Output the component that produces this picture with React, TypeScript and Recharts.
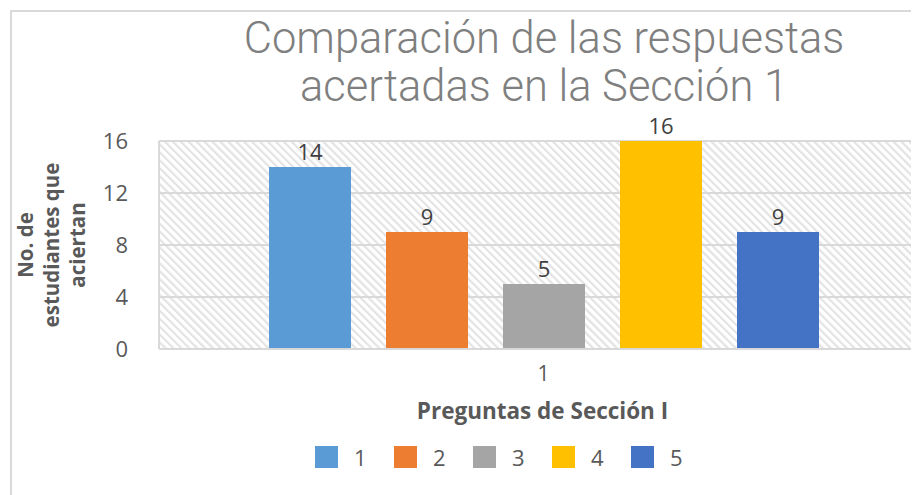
import React from 'react';
import { BarChart, Bar, XAxis, YAxis, CartesianGrid, LabelList, Label } from 'recharts';

const categories = ['1'];
const seriesNames = ['1', '2', '3', '4', '5'];
const seriesValues = [14, 9, 5, 16, 9];
const seriesColors = ['#5B9BD5', '#ED7D31', '#A5A5A5', '#FFC000', '#4472C4'];
const yTicks = [0, 4, 8, 12, 16];
const titleLines = ['Comparación de las respuestas', 'acertadas en la Sección 1'];
const yLabelLines = ['No. de', 'estudiantes que', 'aciertan'];
const xLabel = 'Preguntas de Sección I';

const data = categories.map((c) => {
  const row: Record<string, any> = { name: c };
  seriesNames.forEach((s, i) => {
    row['s' + s] = seriesValues[i];
  });
  return row;
});

const FONT = '"Open Sans", "DejaVu Sans", sans-serif';
const TXT = '#595959';

const YLabel = (props: any) => {
  const vb = props.viewBox || { x: 0, y: 129, width: 157, height: 208 };
  const cy = vb.y + vb.height / 2;
  const xs = [31, 57, 83];
  return (
    <g>
      {yLabelLines.map((l, i) => (
        <g key={i} transform={`translate(${xs[i]}, ${cy}) rotate(-90)`}>
          <text
            x={0}
            y={0}
            textAnchor="middle"
            fontFamily={FONT}
            fontWeight={700}
            fontSize={20.5}
            fill={TXT}
          >
            {l}
          </text>
        </g>
      ))}
    </g>
  );
};

const XLabel = (props: any) => {
  const vb = props.viewBox || { x: 157, y: 337, width: 769, height: 60 };
  return (
    <text
      x={vb.x + vb.width / 2 - 1}
      y={vb.y + 70}
      textAnchor="middle"
      fontFamily={FONT}
      fontWeight={700}
      fontSize={22.5}
      fill={TXT}
    >
      {xLabel}
    </text>
  );
};

export default function App() {
  return (
    <div style={{ position: 'relative', width: 911, height: 487, overflow: 'hidden' }}>
      <svg width={0} height={0} style={{ position: 'absolute' }}>
        <defs>
          <pattern
            id="hatch"
            patternUnits="userSpaceOnUse"
            width={5.6}
            height={5.6}
            patternTransform="rotate(-45)"
          >
            <rect x={0} y={0} width={5.6} height={5.6} fill="#ffffff" />
            <rect x={0} y={0} width={2.2} height={5.6} fill="#e3e3e3" />
          </pattern>
        </defs>
      </svg>
      <div
        style={{
          position: 'absolute',
          left: 2,
          top: 2,
          width: 960,
          height: 540,
          border: '2px solid #d9d9d9',
          boxSizing: 'border-box',
          background: '#fff',
        }}
      >
        <div
          style={{
            position: 'absolute',
            left: 0,
            top: 3,
            width: 1064,
            textAlign: 'center',
            fontFamily: 'Roboto, "Liberation Sans", Arial, sans-serif',
            fontSize: 43.5,
            lineHeight: '48px',
            color: '#7f7f7f',
            fontWeight: 300,
          }}
        >
          {titleLines.map((t, i) => (
            <div key={i}>{t}</div>
          ))}
        </div>
        <div style={{ position: 'absolute', left: -10, top: 0 }}>
          <BarChart
            width={966}
            height={536}
            data={data}
            margin={{ top: 129, right: 40, bottom: 139, left: 0 }}
            barGap={35}
            barSize={82}
          >
            <CartesianGrid
              vertical={false}
              stroke="#d9d9d9"
              strokeWidth={2}
              fill="url(#hatch)"
              fillOpacity={1}
            />
            <XAxis
              dataKey="name"
              tickLine={false}
              axisLine={{ stroke: '#d9d9d9', strokeWidth: 2 }}
              tick={{ fill: TXT, fontSize: 21, fontFamily: FONT }}
              tickMargin={17}
              tickSize={0}
              height={60}
            >
              <Label content={<XLabel />} />
            </XAxis>
            <YAxis
              domain={[0, 16]}
              ticks={yTicks}
              interval={0}
              width={157}
              tickLine={false}
              tickSize={0}
              tickMargin={31}
              axisLine={{ stroke: '#d9d9d9', strokeWidth: 2 }}
              tick={{ fill: TXT, fontSize: 22, fontFamily: FONT }}
            >
              <Label content={<YLabel />} />
            </YAxis>
            {seriesNames.map((s, i) => (
              <Bar
                key={s}
                dataKey={'s' + s}
                name={s}
                fill={seriesColors[i]}
                isAnimationActive={false}
              >
                <LabelList
                  dataKey={'s' + s}
                  position="top"
                  offset={7}
                  fill="#404040"
                  fontSize={22}
                  fontFamily={FONT}
                />
              </Bar>
            ))}
          </BarChart>
        </div>
        <div
          style={{
            position: 'absolute',
            left: 303,
            top: 434,
            display: 'flex',
            fontFamily: FONT,
            fontSize: 22,
            color: TXT,
          }}
        >
          {seriesNames.map((s, i) => (
            <div key={s} style={{ display: 'flex', alignItems: 'center', width: 79 }}>
              <div style={{ width: 23, height: 22, background: seriesColors[i] }} />
              <span style={{ marginLeft: 16, lineHeight: '22px' }}>{s}</span>
            </div>
          ))}
        </div>
      </div>
    </div>
  );
}
